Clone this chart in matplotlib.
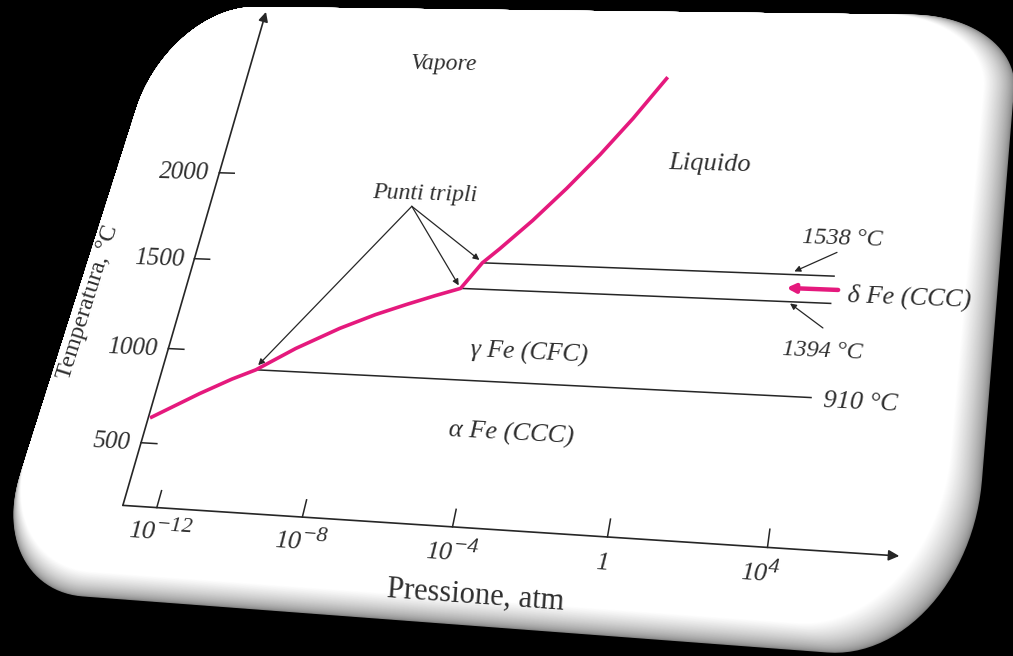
import numpy as np
import matplotlib
matplotlib.use('Agg')
import matplotlib.pyplot as plt
import matplotlib.transforms as mtransforms
from matplotlib.patches import Polygon

# ---- data: x = log10(p / atm), y = temperature in degC ----
vap_logp = [-12.9, -11.7, -10.9, -10.3, -9.34, -8.25, -7.35, -6.55, -5.81, -5.15,
            -4.7, -4.3, -3.55, -2.78, -2.03, -1.29, -0.52]
vap_temp = [630, 770, 855, 910, 1033, 1151, 1233, 1295, 1349, 1394,
            1538, 1619, 1782, 1969, 2167, 2383, 2632]

tp_logp = [-10.3, -5.15, -4.7]          # punti tripli
tp_temp = [910, 1394, 1538]
iso_end = [4.6, 4.8, 4.8]               # where the isotherms stop

xticks = [-12, -8, -4, 0, 4]
xtick_base = ['10', '10', '10', '1', '10']
xtick_exp = ['\u221212', '\u22128', '\u22124', '', '4']
yticks = [500, 1000, 1500, 2000]

x0, t0 = -12.95, 180                    # axis origin
x_end, t_end = 7.2, 3000                # arrow tips

# the page is photographed in perspective: card extents (data units) -> corners in pixels
card_x = (-16.08, 9.01)
card_t = (-273, 3031)
card_px = [(169, 6), (1020, 16), (967, 663), (-16, 589)]   # TL, TR, BR, BL


class Homography(mtransforms.Transform):
    input_dims = 2
    output_dims = 2
    is_separable = False
    has_inverse = True

    def __init__(self, H):
        super().__init__()
        self.H = np.asarray(H, float)

    def transform_non_affine(self, values):
        v = np.asarray(values, float)
        shp = v.shape
        v = v.reshape(-1, 2)
        w = np.column_stack([v, np.ones(len(v))]) @ self.H.T
        return (w[:, :2] / w[:, 2:3]).reshape(shp)

    def inverted(self):
        return Homography(np.linalg.inv(self.H))


def fit_h(src, dst):
    A, b = [], []
    for (x, y), (u, v) in zip(src, dst):
        A.append([x, y, 1, 0, 0, 0, -u * x, -u * y]); b.append(u)
        A.append([0, 0, 0, x, y, 1, -v * x, -v * y]); b.append(v)
    h = np.linalg.solve(np.array(A, float), np.array(b, float))
    return np.append(h, 1).reshape(3, 3)


def card_shape(u1, v0, radii, n=30):
    out = []
    def arc(cu, cv, ru, rv, a0, a1):
        a = np.radians(np.linspace(a0, a1, n))
        return np.column_stack([cu + ru * np.cos(a), cv + rv * np.sin(a)])
    tl, tr_, br, bl = radii
    out.append(arc(tl[0], 1 - tl[1], tl[0], tl[1], 180, 90))
    out.append(arc(u1 - tr_[0], 1 - tr_[1], tr_[0], tr_[1], 90, 0))
    out.append(arc(u1 - br[0], v0 + br[1], br[0], br[1], 0, -90))
    out.append(arc(bl[0], v0 + bl[1], bl[0], bl[1], -90, -180))
    return np.vstack(out)


unit_corners = [(0, 1), (1, 1), (1, 0), (0, 0)]
data_corners = [(card_x[0], card_t[1]), (card_x[1], card_t[1]),
                (card_x[1], card_t[0]), (card_x[0], card_t[0])]

fig = plt.figure(figsize=(10.13, 6.56), dpi=100, facecolor='black')
ax = fig.add_axes([0, 0, 1, 1])
ax.set_xlim(0, 1013)
ax.set_ylim(656, 0)
ax.axis('off')

tr_card = Homography(fit_h(unit_corners, card_px)) + ax.transData
tr = Homography(fit_h(data_corners, card_px)) + ax.transData

# card with a shaded bottom/right edge
radii = [(0.11, 0.20), (0.115, 0.13), (0.13, 0.25), (0.11, 0.17)]
nl = 40
for i in range(nl):
    f = i / (nl - 1)
    g = 0.5 + 0.5 * f ** 0.6
    ax.add_patch(Polygon(card_shape(1 - 0.032 * f, 0.036 * f, radii), closed=True,
                         fc=(g, g, g), ec='none', transform=tr_card, zorder=1))

ink = '#262626'
txt = '#2e2e2e'
pink = '#E5197D'
serif = 'Liberation Serif'


def angle(x, t, dx=0.3, dt=0.0):
    a = tr.transform([(x, t), (x + dx, t + dt)])
    return np.degrees(np.arctan2(a[1, 1] - a[0, 1], a[1, 0] - a[0, 0]))


def label(x, t, s, size, style='italic', ha='center', va='center', rot=None):
    if rot is None:
        rot = angle(x, t)
    return ax.text(x, t, s, transform=tr, fontsize=size, family=serif, style=style, color=txt,
                   ha=ha, va=va, rotation=rot, rotation_mode='anchor', zorder=6)


def pointer(tip, start, color=ink, lw=0.9, ms=9):
    ax.annotate('', xy=tip, xytext=start, xycoords=tr, textcoords=tr,
                arrowprops=dict(arrowstyle='-|>', color=color, lw=lw, mutation_scale=ms,
                                shrinkA=0, shrinkB=0), zorder=5)


# axes with arrows
pointer((x_end, t0), (x0, t0), lw=1.2, ms=16)
pointer((x0, t_end), (x0, t0), lw=1.2, ms=14)

for xv, base, ex in zip(xticks, xtick_base, xtick_exp):
    ax.plot([xv, xv], [t0, t0 + 85], color=ink, lw=1.1, transform=tr, zorder=4)
    if ex:
        bt = label(xv - 0.55, 25, base, 19, ha='left', va='baseline')
        ax.annotate(ex, xy=(1, 1), xycoords=bt, xytext=(0.5, 3), textcoords='offset points',
                    fontsize=16, family=serif, style='italic', color=txt, ha='left', va='top',
                    rotation=angle(xv, 25), rotation_mode='anchor', zorder=6)
    else:
        label(xv, 25, base, 19, ha='center', va='baseline')

for tv in yticks:
    ax.plot([x0, x0 + 0.45], [tv, tv], color=ink, lw=1.1, transform=tr, zorder=4)
    label(-13.25, tv - 8, str(tv), 18, ha='right')

label(-15.7, 1230, 'Temperatura, °C', 17.5, style='normal', rot=angle(-15.7, 1230, 0, 200))
label(-3.05, -136, 'Pressione, atm', 22, style='normal')

# isotherms
for tv, xe, xs in zip(tp_temp, iso_end, tp_logp):
    ax.plot([xs, xe], [tv, tv], color=ink, lw=1.1, transform=tr, zorder=3)

# phase boundary
ax.plot(vap_logp, vap_temp, color=pink, lw=2.6, transform=tr, zorder=5,
        solid_joinstyle='round', solid_capstyle='butt')

# punti tripli pointers
apex = (-7.05, 1840)
for tip in [(-10.27, 935), (-5.22, 1410), (-4.8, 1553)]:
    pointer(tip, apex)
label(-6.75, 1910, 'Punti tripli', 17)

# right-hand labels
pointer((3.75, 1555), (4.8, 1665))
pointer((3.75, 1385), (4.68, 1265))
pointer((3.6, 1466), (4.95, 1466), color=pink, lw=3.2, ms=12)
label(4.9, 1740, '1538 °C', 17.5)
label(5.2, 1440, 'δ Fe (CCC)', 19, ha='left')
label(4.75, 1145, '1394 °C', 17.5)
label(5.85, 895, '910 °C', 19)

# regions
label(-7.1, 2690, 'Vapore', 17)
label(1.05, 2130, 'Liquido', 19)
label(-2.9, 1065, 'γ Fe (CFC)', 18.5)
label(-2.95, 650, 'α Fe (CCC)', 19)

fig.savefig('out.png', facecolor='black')
